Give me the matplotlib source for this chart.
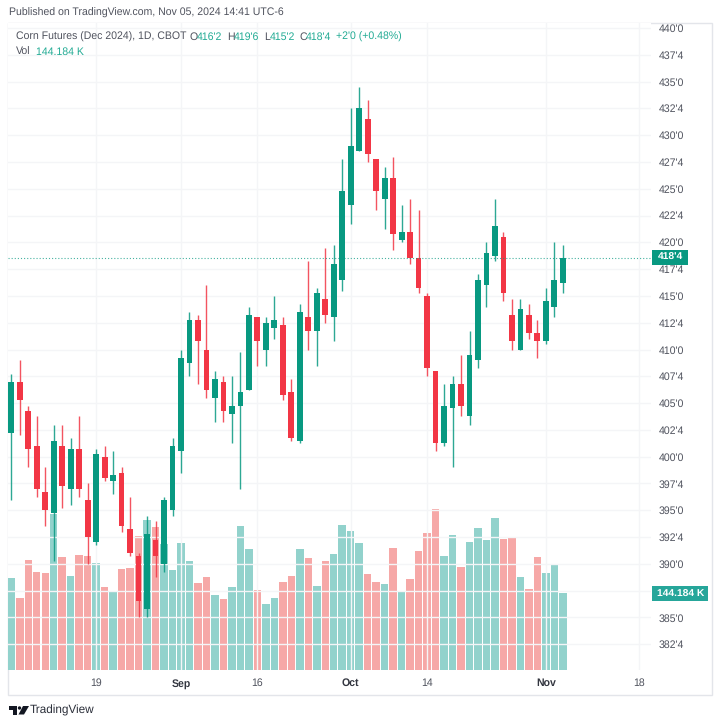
import matplotlib
matplotlib.use("Agg")
import matplotlib.pyplot as plt
from matplotlib.patches import Rectangle, Circle, Polygon

plt.rcParams['font.family'] = ['Liberation Sans', 'DejaVu Sans']
plt.rcParams['text.hinting'] = 'no_hinting'

W, H = 720, 726

opens = [402.25,407,404.25,401,396.75,394.75,401,397,400.75,396,392,400,397.75,398.5,393.25,390.75,385.75,392.25,390,395,
         400.5,408.75,412.75,410,405.5,407,404,404.75,406.25,413,410,412,412.25,406,401.5,413,411.75,414.75,413,416.5,
         423.5,428.5,431.5,427.75,424,426,420.25,421,418.5,415,408,401.25,404.5,406.75,403.75,409,416,418.75,420.5,413.25,
         410,413.25,411.5,410.75,414,416.25]
highs = [407.75,409,404.75,403.75,399,403,403,401.75,403.75,397.5,400.75,401,400.5,399,396.25,391,394.5,394,396.25,401.75,
         410,413.5,413.25,416,408,407.5,407.5,409.75,414,413,413,415,413,407.25,414.25,418.25,415.75,419.5,419.75,427.75,
         432.5,434.5,433.25,427.75,427,428,423.5,424,423,415.25,408,406.75,407.5,409.5,411.75,417,420,424,421,414.75,
         414.75,414.25,412.75,415.75,420,419.75]
lows = [396,402,399,396.25,393.5,390.25,395.25,395.5,396.25,390,391.75,397.75,396.5,393,390.75,385,385,388.75,389.25,394.5,
        398.5,407.5,406.75,405.5,403.25,403.25,401.25,397,406.25,408.5,408.5,411,405.25,401.5,401.25,410,408.5,412.5,410.75,415.5,
        421.75,428.5,427.5,423,421.25,419.25,420,418,415.25,407.5,400.5,401,399,403.75,403,408.25,414,418.25,414.5,410,
        410,411,409.25,410.5,413,415.25]
closes = [407,405.25,400.75,397,395,401.5,397.25,400.75,397,392.5,400.25,398,398.25,393.5,391,386.5,392.75,390.75,396,401,
          409.25,412.75,410.75,406.25,407.25,404.25,404.75,406,413.25,410.75,412.5,412.75,405.75,401.75,413.5,411.75,415.25,413.25,418,424.75,
          429,432.5,428.25,424.75,426,420.75,421,418.5,415.75,408.25,401.25,404.75,406.75,404.75,409.5,416.5,419,421.5,415.25,410.75,
          413.75,411.5,410.75,414.5,416.5,418.5]
volumes_k = [172.3,135.4,206,182.9,181.1,292.7,211,175.5,215.3,213.5,200.4,156,147.4,189.1,190.4,250.4,280.9,267.8,235.9,187.3,
             237.2,204.7,162.3,173.6,139.9,132.9,156,269.6,226.6,149.8,123.6,134.3,164.8,176.6,226.6,209.2,157.3,203.5,216.6,271.5,
             260.3,238.4,179.8,164.8,160.5,227.9,148.5,170.4,222.3,256,301.5,213.5,252.8,192.3,239.7,265.3,244,285.2,245.3,248.5,
             174.7,151.7,211.6,181.1,197.2,144.184]

x_tick_index = [10, 20, 29, 40, 49, 63, 74]
x_tick_labels = ['19', 'Sep', '16', 'Oct', '14', 'Nov', '18']
x_tick_bold = ['Sep', 'Oct', 'Nov']
y_ticks = [382.5,385,390,392.5,395,397.5,400,402.5,405,407.5,410,412.5,415,417.5,420,422.5,425,427.5,430,432.5,435,437.5,440]
y_tick_labels = ["382'4","385'0","390'0","392'4","395'0","397'4","400'0","402'4","405'0","407'4","410'0","412'4","415'0","417'4",
                 "420'0","422'4","425'0","427'4","430'0","432'4","435'0","437'4","440'0"]
grid_prices = y_ticks + [387.5]

UP, DOWN = '#089981', '#F23645'
VUP, VDOWN = '#26A69A', '#EF5350'
GRID = '#f4f5f7'
BORDER = '#e3e5ea'
TEXT = '#50535e'
FS = 7.6

fig = plt.figure(figsize=(W / 100, H / 100), dpi=100, facecolor='white')
L, T, R, B = 8, 23, 651, 670
rect = [L / W, 1 - B / H, (R - L) / W, (B - T) / H]

xlim = (-0.389, 75.39)
ylim = (380.1, 440.46)
vol_top = 1211.5

axv = fig.add_axes(rect, zorder=1)
ax = fig.add_axes(rect, zorder=2)
ax.patch.set_alpha(0)

n = range(len(opens))
vcols = [VUP if c >= o else VDOWN for o, c in zip(opens, closes)]
cols = [UP if c >= o else DOWN for o, c in zip(opens, closes)]

axv.bar(list(n), volumes_k, width=0.88, color=vcols, alpha=0.5, linewidth=0, zorder=3)
axv.set_xlim(*xlim)
axv.set_ylim(0, vol_top)
axv.set_xticks([])
axv.set_yticks([])
for s in axv.spines.values():
    s.set_visible(False)

# grid
for p in grid_prices:
    ax.axhline(p, color=GRID, lw=1, zorder=0)
for i in x_tick_index:
    ax.axvline(i, color=GRID, lw=1, zorder=0)

ax.vlines(list(n), lows, highs, colors=cols, lw=1, alpha=0.85, zorder=4)
ax.bar(list(n), [abs(c - o) for o, c in zip(opens, closes)],
       bottom=[min(o, c) for o, c in zip(opens, closes)],
       width=0.68, color=cols, linewidth=0, zorder=5)

last = closes[-1]
ax.axhline(last, color=UP, lw=0.8, ls=(0, (1, 1.8)), alpha=0.75, zorder=6)

ax.set_xlim(*xlim)
ax.set_ylim(*ylim)
ax.yaxis.tick_right()
ax.set_yticks(y_ticks, y_tick_labels)
ax.set_xticks(x_tick_index, x_tick_labels)
ax.tick_params(axis='y', length=0, pad=5.8, labelsize=FS, labelcolor=TEXT)
ax.tick_params(axis='x', length=0, pad=6, labelsize=FS, labelcolor=TEXT)
for t in ax.get_xticklabels():
    if t.get_text() in x_tick_bold:
        t.set_fontweight('bold')
        t.set_color('#333640')
for s in ax.spines.values():
    s.set_visible(False)


def fx(px):
    return px / W


def fy(py):
    return 1 - py / H


def label(px, py, s, color=TEXT, size=FS, weight='normal', ha='left'):
    fig.text(fx(px), fy(py), s, color=color, fontsize=size, fontweight=weight, ha=ha, va='center', zorder=20)


# outer frame
fig.add_artist(Rectangle((fx(8), fy(695)), (711.5 - 8) / W, (695 - 23) / H, transform=fig.transFigure,
                         fill=False, ec=BORDER, lw=1, zorder=0))

# last value tags
fig.add_artist(Rectangle((fx(652), fy(265)), 36 / W, 15 / H, transform=fig.transFigure, fc=UP, ec='none', zorder=15))
label(670, 257.6, "418'4", color='white', weight='bold', ha='center', size=7.4)
fig.add_artist(Rectangle((fx(652), fy(601)), 56 / W, 15 / H, transform=fig.transFigure, fc=VUP, ec='none', zorder=15))
label(680.5, 594, "144.184 K", color='white', weight='bold', ha='center', size=7.4)

# header
label(9, 13, "Published on TradingView.com, Nov 05, 2024 14:41 UTC-6", color=TEXT)
LEG = '#22ab94'
label(15.5, 37, "Corn Futures (Dec 2024), 1D, CBOT", color=TEXT)
for px, s, c in [(189, 'O', TEXT), (196.5, "416'2", LEG), (227, 'H', TEXT), (233.5, "419'6", LEG),
                 (264, 'L', TEXT), (270, "415'2", LEG), (299, 'C', TEXT), (306, "418'4", LEG),
                 (336.5, "+2'0 (+0.48%)", LEG)]:
    label(px, 37, s, color=c)
label(15.5, 52.5, "Vol", color=TEXT)
label(36.5, 52.5, "144.184 K", color=LEG)

# footer logo
DARK = '#131722'
fig.add_artist(Polygon([(fx(8.5), fy(706)), (fx(17), fy(706)), (fx(17), fy(714.5)), (fx(12.5), fy(714.5)),
                        (fx(12.5), fy(709.5)), (fx(8.5), fy(709.5))],
                       closed=True, transform=fig.transFigure, fc=DARK, ec='none'))
fig.add_artist(Circle((fx(19.5), fy(708)), 1.7 / W, transform=fig.transFigure, fc=DARK, ec='none'))
fig.add_artist(Polygon([(fx(23), fy(706)), (fx(29), fy(706)), (fx(24), fy(714.5)), (fx(18.5), fy(714.5))],
                       closed=True, transform=fig.transFigure, fc=DARK, ec='none'))
label(30, 710, "TradingView", color='#2a2e39', size=8.5)

fig.savefig('out.png', dpi=100, facecolor='white')
